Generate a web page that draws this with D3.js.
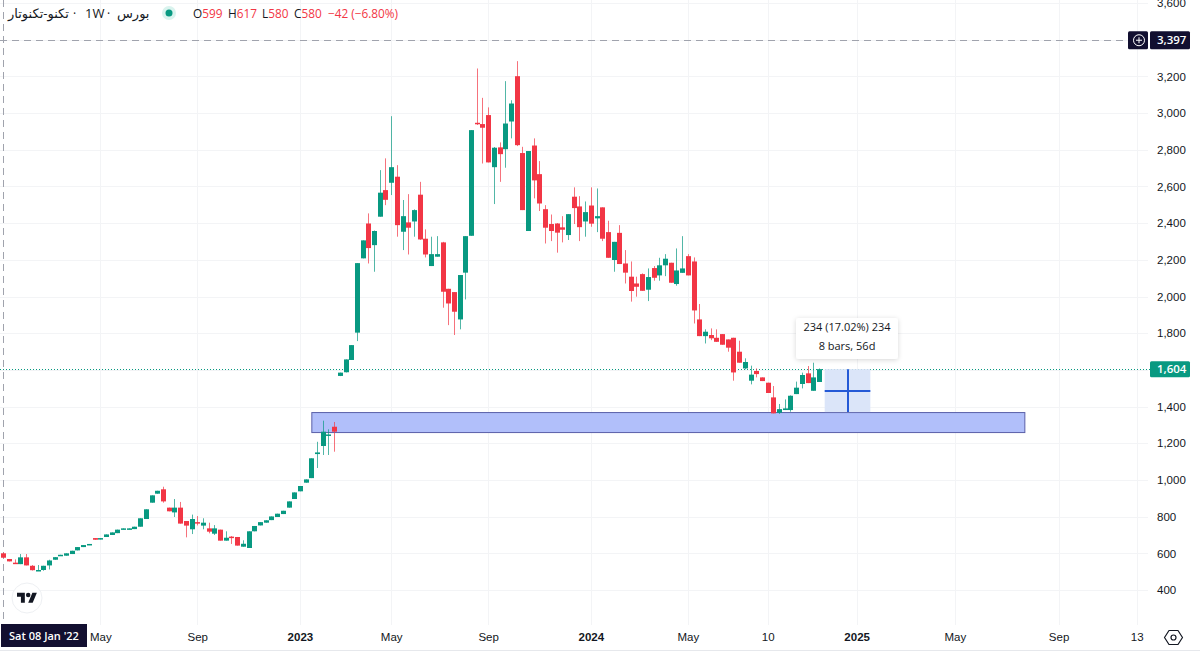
<!DOCTYPE html>
<html>
<head>
<meta charset="utf-8">
<title>1W chart</title>
<script src="https://cdn.jsdelivr.net/npm/d3@7"></script>
<style>
  html, body { margin: 0; padding: 0; background: #fff; }
  svg { display: block; font-family: "Open Sans", "DejaVu Sans", sans-serif; }
</style>
</head>
<body>
<div id="chart"></div>
<script>
// weekly candles
var opens = [600,569,549,541,578,532,506,509,534,565,587,587,596,616,634,645,683,676,689,700,
  710,730,730,732,745,787,876,925,949,849,823,849,776,731,770,751,736,707,729,669,
  691,689,636,629,720,752,767,781,798,814,849,896,938,985,1010,1141,1185,1241,1290,1567,
  1587,1654,1803,2208,2398,2280,2435,2580,2620,2653,2353,2404,2409,2555,2315,2166,2217,2295,2042,2024,
  1875,2130,2331,2947,2940,2989,2705,2813,2803,2954,3201,2782,2357,2823,2667,2476,2395,2398,2377,2335,
  2544,2491,2409,2496,2426,2486,2351,2199,2347,2180,2108,2071,2122,2037,2155,2115,2170,2184,2068,2129,
  2220,2191,1875,1784,1790,1775,1795,1766,1775,1699,1608,1541,1594,1559,1530,1450,1366,1381,1381,1468,
  1523,1581,1486,1534];
var highs = [604,569,567,596,596,536,536,532,565,579,592,600,614,634,645,651,683,683,703,714,
  729,736,736,745,791,840,916,941,963,849,896,880,776,811,803,791,767,754,729,720,
  694,689,671,720,749,770,780,801,816,832,883,932,967,1003,1118,1208,1323,1276,1316,1585,
  1657,1735,2182,2306,2453,2360,2689,2753,2983,2716,2526,2558,2475,2625,2366,2326,2329,2298,2042,2024,
  2117,2329,2907,3243,3083,3031,2815,2840,3174,3070,3283,2816,2793,2862,2738,2498,2447,2400,2438,2449,
  2595,2547,2518,2595,2589,2486,2413,2298,2389,2253,2191,2108,2126,2153,2166,2211,2231,2184,2262,2329,
  2231,2213,1959,1821,1826,1821,1795,1766,1775,1759,1663,1623,1608,1559,1530,1512,1414,1439,1461,1536,
  1585,1621,1639,1608];
var lows = [576,556,543,541,534,506,504,505,512,565,587,587,596,616,634,645,674,676,689,700,
  710,730,730,732,745,787,876,925,876,829,798,762,687,705,752,731,709,700,669,669,
  651,642,636,629,720,752,767,781,798,814,849,896,938,985,1010,1065,1136,1136,1154,1566,
  1586,1654,1757,2208,2180,2135,2435,2498,2553,2326,2253,2229,2326,2309,2213,2166,2217,1939,1844,1790,
  1821,1984,2331,2935,2725,2731,2504,2625,2702,2862,2820,2471,2357,2535,2466,2289,2302,2239,2295,2308,
  2395,2302,2326,2380,2351,2302,2211,2135,2177,2071,1972,1999,2031,1975,2086,2086,2111,2075,2059,2129,
  2115,1853,1784,1744,1762,1752,1737,1699,1541,1639,1603,1521,1559,1539,1474,1363,1360,1381,1372,1468,
  1499,1528,1486,1534];
var closes = [576,556,543,578,534,508,509,532,561,579,592,600,614,634,645,651,674,683,703,714,
  729,736,736,745,791,840,916,941,883,829,849,762,751,787,765,767,718,736,669,685,
  687,642,652,720,749,770,780,801,816,832,883,932,967,1003,1118,1150,1263,1248,1263,1585,
  1657,1735,2182,2306,2264,2357,2566,2527,2705,2389,2438,2375,2471,2311,2229,2231,2231,2026,1962,1917,
  2117,2329,2907,2940,2920,2731,2811,2776,2943,3052,2825,2471,2793,2633,2507,2375,2357,2348,2364,2449,
  2482,2378,2460,2397,2438,2315,2211,2298,2177,2130,2030,2053,2031,2106,2102,2170,2206,2075,2142,2153,
  2115,1924,1784,1808,1772,1753,1737,1721,1586,1639,1643,1574,1577,1539,1474,1363,1386,1390,1459,1503,
  1572,1528,1559,1604];

var priceTicks = [400,600,800,1000,1200,1400,1800,2000,2200,2400,2600,2800,3000,3200,3600];
var gridPrices = [400,600,800,1000,1200,1400,1600,1800,2000,2200,2400,2600,2800,3000,3200,3400,3600];
var timeBars = [17,34,52,68,85,103,120,134,149.6,166.8,185,198.7];
var timeLabels = ["May","Sep","2023","May","Sep","2024","May","10","2025","May","Sep","13"];
var yearLabels = ["2023","2024","2025"];

var zoneBars = [54,179];
var zonePrices = [1370,1261];
var measureBars = [144,152];
var measurePrices = [1604,1370];
var lastPrice = 1604;
var crossPrice = 3397;
var crossBar = 0;

var width = 1200, height = 654;
var green = "#089981", red = "#f23645", ink = "#131722", navy = "#120f30";
var gridColor = "#f3f4f6";

var x = d3.scaleLinear().domain([0,143]).range([3.3,819]);
var y = d3.scaleLinear().domain([400,3600]).range([590,3]);

var svg = d3.select("#chart").append("svg")
  .attr("width", width)
  .attr("height", height);

// grid
svg.append("g").selectAll("line")
  .data(gridPrices)
  .enter().append("line")
  .attr("x1", 0).attr("x2", 1148)
  .attr("y1", function(d) { return Math.round(y(d)) + 0.5; })
  .attr("y2", function(d) { return Math.round(y(d)) + 0.5; })
  .attr("stroke", gridColor);

svg.append("g").selectAll("line")
  .data(timeBars)
  .enter().append("line")
  .attr("y1", 0).attr("y2", 625)
  .attr("x1", function(d) { return Math.round(x(d)) + 0.5; })
  .attr("x2", function(d) { return Math.round(x(d)) + 0.5; })
  .attr("stroke", gridColor);

svg.append("line")
  .attr("x1", 0).attr("x2", width)
  .attr("y1", 650.5).attr("y2", 650.5)
  .attr("stroke", "#e6e8ec");

// crosshair
svg.append("line")
  .attr("x1", 0).attr("x2", 1128)
  .attr("y1", Math.round(y(crossPrice)) + 0.5).attr("y2", Math.round(y(crossPrice)) + 0.5)
  .attr("stroke", "#a0a3ad")
  .attr("stroke-dasharray", "7,5");

svg.append("line")
  .attr("x1", Math.round(x(crossBar)) + 0.5).attr("x2", Math.round(x(crossBar)) + 0.5)
  .attr("y1", 0).attr("y2", 624)
  .attr("stroke", "#a0a3ad")
  .attr("stroke-dasharray", "7,5");

// last price line
svg.append("line")
  .attr("x1", 0).attr("x2", 1150)
  .attr("y1", Math.round(y(lastPrice)) + 0.5).attr("y2", Math.round(y(lastPrice)) + 0.5)
  .attr("stroke", green)
  .attr("stroke-dasharray", "1,2");

// support zone
svg.append("rect")
  .attr("x", x(zoneBars[0]) + 0.5)
  .attr("y", y(zonePrices[0]) + 0.5)
  .attr("width", x(zoneBars[1]) - x(zoneBars[0]))
  .attr("height", y(zonePrices[1]) - y(zonePrices[0]))
  .attr("fill", "#b1bffa")
  .attr("stroke", "#5a5fa8");

// candles
var candles = svg.append("g").selectAll("g")
  .data(d3.range(opens.length))
  .enter().append("g")
  .attr("fill", function(i) { return closes[i] >= opens[i] ? green : red; })
  .attr("stroke", function(i) { return closes[i] >= opens[i] ? green : red; });

candles.append("line")
  .attr("x1", function(i) { return Math.round(x(i)) + 0.5; })
  .attr("x2", function(i) { return Math.round(x(i)) + 0.5; })
  .attr("y1", function(i) { return y(highs[i]); })
  .attr("y2", function(i) { return y(lows[i]); })
  .attr("stroke-opacity", 0.7);

candles.append("rect")
  .attr("x", function(i) { return Math.round(x(i)) - 2; })
  .attr("width", 5)
  .attr("y", function(i) { return y(Math.max(opens[i], closes[i])); })
  .attr("height", function(i) { return Math.max(1.5, Math.abs(y(opens[i]) - y(closes[i]))); })
  .attr("stroke", "none");

// measure tool
var mx0 = x(measureBars[0]), mx1 = x(measureBars[1]);
var my0 = y(measurePrices[0]), my1 = y(measurePrices[1]);
var measure = svg.append("g");
measure.append("rect")
  .attr("x", mx0).attr("y", my0)
  .attr("width", mx1 - mx0).attr("height", my1 - my0)
  .attr("fill", "#dbe5f9");
measure.append("line")
  .attr("x1", mx0).attr("x2", mx1)
  .attr("y1", Math.round((my0 + my1) / 2)).attr("y2", Math.round((my0 + my1) / 2))
  .attr("stroke", "#2459d6").attr("stroke-width", 2);
measure.append("line")
  .attr("x1", Math.round((mx0 + mx1) / 2)).attr("x2", Math.round((mx0 + mx1) / 2))
  .attr("y1", my0).attr("y2", my1)
  .attr("stroke", "#2459d6").attr("stroke-width", 2);

var defs = svg.append("defs");
var shadow = defs.append("filter").attr("id", "soft")
  .attr("x", "-20%").attr("y", "-30%").attr("width", "140%").attr("height", "170%");
shadow.append("feDropShadow")
  .attr("dx", 0).attr("dy", 1).attr("stdDeviation", 2.5)
  .attr("flood-color", "#000").attr("flood-opacity", 0.16);

svg.append("rect")
  .attr("x", 796).attr("y", 318).attr("width", 102).attr("height", 41).attr("rx", 3)
  .attr("fill", "#fff").attr("filter", "url(#soft)");
svg.append("text")
  .attr("x", 847).attr("y", 331).attr("text-anchor", "middle")
  .attr("font-size", 11).attr("fill", ink)
  .text("234 (17.02%) 234");
svg.append("text")
  .attr("x", 847).attr("y", 350).attr("text-anchor", "middle")
  .attr("font-size", 11).attr("fill", ink)
  .text("8 bars, 56d");

// price axis
var priceAxis = d3.axisRight(y)
  .tickValues(priceTicks)
  .tickSize(0)
  .tickFormat(d3.format(","));
var priceG = svg.append("g")
  .attr("transform", "translate(1154,0)")
  .call(priceAxis);
priceG.select(".domain").remove();
priceG.selectAll("text")
  .attr("x", 3)
  .attr("font-family", "inherit")
  .attr("font-size", 11.5)
  .attr("fill", ink);

// time axis, drawn on a bar index because the labels do not follow a calendar spacing
var timeAxis = d3.axisBottom(x)
  .tickValues(timeBars)
  .tickSize(0)
  .tickFormat(function(d, i) { return timeLabels[i]; });
var timeG = svg.append("g")
  .attr("transform", "translate(0,628)")
  .call(timeAxis);
timeG.select(".domain").remove();
timeG.selectAll("text")
  .attr("y", 5)
  .attr("font-family", "inherit")
  .attr("font-size", 11.5)
  .attr("font-weight", function(d, i) { return yearLabels.indexOf(timeLabels[i]) >= 0 ? 600 : 400; })
  .attr("fill", ink);

// axis tags
svg.append("rect")
  .attr("x", 1150).attr("y", y(lastPrice) - 8).attr("width", 40).attr("height", 16).attr("rx", 1.5)
  .attr("fill", green);
svg.append("text")
  .attr("x", 1157).attr("y", y(lastPrice) + 4)
  .attr("font-size", 11.5).attr("font-weight", 600).attr("fill", "#fff")
  .text(d3.format(",")(lastPrice));

svg.append("rect")
  .attr("x", 1128).attr("y", y(crossPrice) - 9).attr("width", 20).attr("height", 18).attr("rx", 1.5)
  .attr("fill", navy);
svg.append("circle")
  .attr("cx", 1139).attr("cy", y(crossPrice)).attr("r", 5.5)
  .attr("fill", "none").attr("stroke", "#fff");
svg.append("path")
  .attr("d", "M1136 " + y(crossPrice) + "h6M1139 " + (y(crossPrice) - 3) + "v6")
  .attr("stroke", "#fff").attr("fill", "none");
svg.append("rect")
  .attr("x", 1150).attr("y", y(crossPrice) - 9).attr("width", 40).attr("height", 18).attr("rx", 1.5)
  .attr("fill", navy);
svg.append("text")
  .attr("x", 1157).attr("y", y(crossPrice) + 4)
  .attr("font-size", 11.5).attr("font-weight", 600).attr("fill", "#fff")
  .text(d3.format(",")(crossPrice));

svg.append("rect")
  .attr("x", 1).attr("y", 624).attr("width", 86).attr("height", 23)
  .attr("fill", navy);
svg.append("text")
  .attr("x", 44).attr("y", 640).attr("text-anchor", "middle")
  .attr("font-size", 11).attr("font-weight", 600).attr("fill", "#fff")
  .text("Sat 08 Jan '22");

// header, the pieces are placed one by one so the mixed direction text keeps its order
var titleParts = ["تکنو-تکنوتار", "·", "1W", "·", "بورس"];
var titleX = [8, 73, 85, 107, 117];
var titleSize = [13, 12, 13, 12, 13];
svg.append("g").selectAll("text")
  .data(titleParts)
  .enter().append("text")
  .attr("x", function(d, i) { return titleX[i]; })
  .attr("y", 18)
  .attr("font-size", function(d, i) { return titleSize[i]; })
  .attr("fill", ink)
  .text(function(d) { return d; });

svg.append("circle").attr("cx", 169).attr("cy", 13).attr("r", 7).attr("fill", "#d9f3ee");
svg.append("circle").attr("cx", 169).attr("cy", 13).attr("r", 3.5).attr("fill", green);

var legendNames = ["O","H","L","C"];
var legendValues = ["599","617","580","580"];
var legendX = [193,228,262,294];
var legend = svg.append("g").selectAll("text")
  .data(legendNames)
  .enter().append("text")
  .attr("x", function(d, i) { return legendX[i]; })
  .attr("y", 18)
  .attr("font-size", 11.8)
  .attr("fill", ink);
legend.append("tspan").text(function(d) { return d; });
legend.append("tspan").attr("fill", red).text(function(d, i) { return legendValues[i]; });
svg.append("text")
  .attr("x", 328).attr("y", 18)
  .attr("font-size", 11.8).attr("fill", red)
  .text("−42 (−6.80%)");

// logo
svg.append("circle").attr("cx", 27).attr("cy", 598).attr("r", 15)
  .attr("fill", "#fff").attr("stroke", "#eef0f3");
var logo = svg.append("g")
  .attr("transform", "translate(17,590.5) scale(0.56)")
  .attr("fill", ink);
logo.append("path").attr("d", "M14 22H7V11H0V4h14v18zM28 22h-8l7.5-18h8L28 22z");
logo.append("circle").attr("cx", 20).attr("cy", 8).attr("r", 4);

// settings gear
svg.append("path")
  .attr("d", "M1169 630.5h9l4.5 7-4.5 7h-9l-4.5-7z")
  .attr("fill", "none").attr("stroke", ink).attr("stroke-width", 1.2)
  .attr("stroke-linejoin", "round");
svg.append("circle").attr("cx", 1173.5).attr("cy", 637.5).attr("r", 2.5)
  .attr("fill", "none").attr("stroke", ink).attr("stroke-width", 1.2);
</script>
</body>
</html>
